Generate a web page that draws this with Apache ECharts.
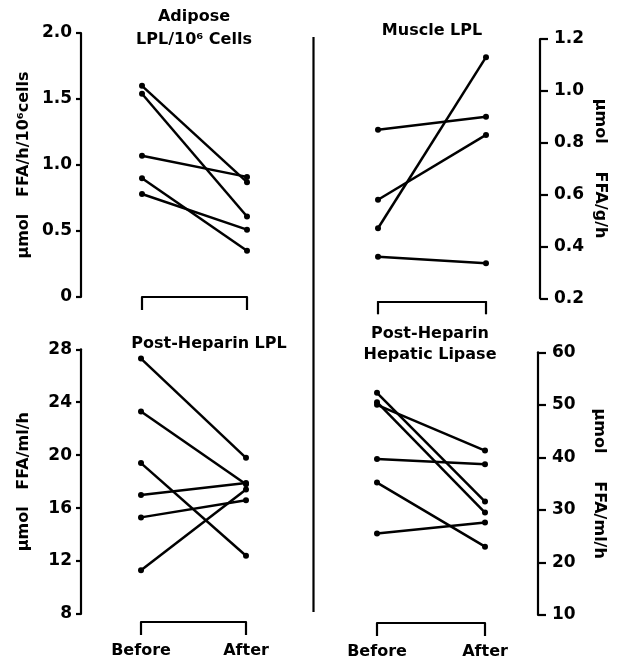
<!DOCTYPE html>
<html><head><meta charset="utf-8">
<script src="https://cdn.jsdelivr.net/npm/echarts@6/dist/echarts.min.js"></script>
<style>html,body{margin:0;padding:0;background:#fff}#c{width:625px;height:662px}</style>
</head><body><div id="c"></div>
<script>
// ---- data ----
const categories = ['Before', 'After'];

const adiposeBefore = [1.60, 1.54, 1.07, 0.90, 0.78];
const adiposeAfter  = [0.87, 0.61, 0.91, 0.35, 0.51];

const muscleBefore = [0.47, 0.85, 0.58, 0.36];
const muscleAfter  = [1.13, 0.90, 0.83, 0.335];

const postLplBefore = [27.3, 23.3, 19.4, 17.0, 15.3, 11.3];
const postLplAfter  = [19.8, 17.8, 12.4, 17.9, 16.6, 17.4];

const hepaticBefore = [52.3, 50.5, 50.0, 39.7, 35.2, 25.5];
const hepaticAfter  = [31.6, 29.5, 41.3, 38.7, 23.0, 27.6];

const adiposeTicks = ['0', '0.5', '1.0', '1.5', '2.0'];
const muscleTicks  = ['0.2', '0.4', '0.6', '0.8', '1.0', '1.2'];
const postLplTicks = ['8', '12', '16', '20', '24', '28'];
const hepaticTicks = ['10', '20', '30', '40', '50', '60'];

// ---- chart ----
const FONT = 'DejaVu Sans';
const INK = '#000';

function yAx(gi, min, max, interval, ticks, position, offset, name, nameGap) {
  const right = position === 'right';
  return {
    gridIndex: gi, type: 'value', min: min, max: max, interval: interval,
    position: position, offset: offset,
    name: name, nameLocation: 'middle', nameGap: nameGap,
    nameRotate: right ? -90 : 90,
    nameTextStyle: { fontFamily: FONT, fontWeight: 'bold', fontSize: 16, color: INK },
    axisLine: { show: true, lineStyle: { color: INK, width: 2.2 } },
    axisTick: { show: true, length: right ? 8 : 5, lineStyle: { color: INK, width: 2.2 } },
    splitLine: { show: false },
    axisLabel: {
      margin: right ? 14 : 9, fontFamily: FONT, fontWeight: 'bold', fontSize: 17, color: INK,
      formatter: function (v, i) { return ticks[i]; }
    }
  };
}
function xAx(gi, offset, showLabel) {
  return {
    gridIndex: gi, type: 'category', data: categories, boundaryGap: false,
    position: 'bottom', offset: offset,
    axisLine: { show: true, lineStyle: { color: INK, width: 2.2 } },
    axisTick: { show: true, length: 13, lineStyle: { color: INK, width: 2.2 } },
    splitLine: { show: false },
    axisLabel: { show: showLabel, margin: 21, fontFamily: FONT, fontWeight: 'bold', fontSize: 16, color: INK }
  };
}
function lines(gi, before, after) {
  return before.map(function (b, i) {
    return {
      type: 'line', xAxisIndex: gi, yAxisIndex: gi,
      data: [b, after[i]],
      symbol: 'circle', symbolSize: 6, showSymbol: true,
      lineStyle: { color: INK, width: 2.5 },
      itemStyle: { color: INK },
      emphasis: { disabled: true }, silent: true
    };
  });
}
function label(x, y, text) {
  return { type: 'text', x: x, y: y,
    style: { text: text, fill: INK, font: 'bold 16px "' + FONT + '"', align: 'center', verticalAlign: 'middle' } };
}

const chart = echarts.init(document.getElementById('c'), null, { renderer: 'canvas' });
chart.setOption({
  backgroundColor: '#fff',
  animation: false,
  grid: [
    { left: 142, top: 33, width: 105, height: 264 },
    { left: 378, top: 39, width: 108, height: 259.3 },
    { left: 141, top: 349.3, width: 105, height: 264.7 },
    { left: 377, top: 352.3, width: 108, height: 262.7 }
  ],
  xAxis: [ xAx(0, 1, false), xAx(1, 3, false), xAx(2, 8, true), xAx(3, 8, true) ],
  yAxis: [
    yAx(0, 0, 2, 0.5, adiposeTicks, 'left', 61, 'μmol   FFA/h/10⁶cells', 49),
    yAx(1, 0.2, 1.2, 0.2, muscleTicks, 'right', 54, 'μmol     FFA/g/h', 52),
    yAx(2, 8, 28, 4, postLplTicks, 'left', 60, 'μmol   FFA/ml/h', 49),
    yAx(3, 10, 60, 10, hepaticTicks, 'right', 53, 'μmol     FFA/ml/h', 53)
  ],
  series: [].concat(
    lines(0, adiposeBefore, adiposeAfter),
    lines(1, muscleBefore, muscleAfter),
    lines(2, postLplBefore, postLplAfter),
    lines(3, hepaticBefore, hepaticAfter)
  ),
  graphic: [
    label(194, 17, 'Adipose'),
    label(194, 40, 'LPL/10⁶ Cells'),
    label(432, 31, 'Muscle LPL'),
    label(209, 344, 'Post-Heparin LPL'),
    label(430, 334, 'Post-Heparin'),
    label(430, 355, 'Hepatic Lipase'),
    { type: 'line', shape: { x1: 313.5, y1: 37, x2: 313.5, y2: 612 },
      style: { stroke: INK, lineWidth: 2.2 } }
  ]
});
</script>
</body></html>
